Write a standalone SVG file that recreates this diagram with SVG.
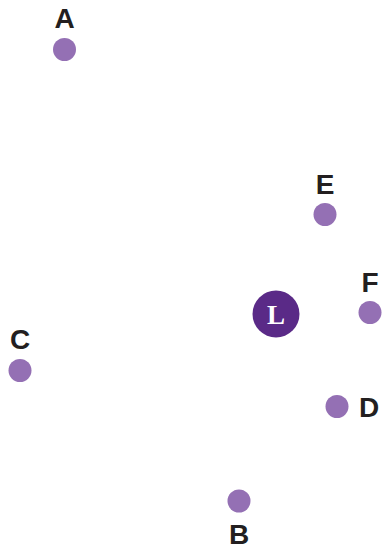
<svg xmlns="http://www.w3.org/2000/svg" width="382" height="550" viewBox="0 0 382 550">
<style>
.dot{fill:#9470b4}
.lbl{font-family:"Liberation Sans",Arial,sans-serif;font-weight:700;font-size:28px;fill:#231f20;text-anchor:middle}
.hub{fill:#5a2a87}
.hubt{font-family:"Liberation Serif",serif;font-weight:700;font-size:27px;fill:#ffffff;text-anchor:middle}
</style>
<rect width="382" height="550" fill="#ffffff"/>
<g id="connectors"></g>
<g id="A"><circle class="dot" cx="64.5" cy="49.5" r="11.5"/><text class="lbl" x="64.5" y="28">A</text></g>
<g id="E"><circle class="dot" cx="325" cy="214.5" r="11.5"/><text class="lbl" x="325" y="194">E</text></g>
<g id="F"><circle class="dot" cx="370" cy="312.5" r="11.5"/><text class="lbl" x="370" y="292">F</text></g>
<g id="C"><circle class="dot" cx="20" cy="370.5" r="11.5"/><text class="lbl" x="20" y="349">C</text></g>
<g id="D"><circle class="dot" cx="337" cy="406.5" r="11.5"/><text class="lbl" x="359" y="417" style="text-anchor:start">D</text></g>
<g id="B"><circle class="dot" cx="239" cy="501" r="11.5"/><text class="lbl" x="239" y="544">B</text></g>
<g id="L"><circle class="hub" cx="276" cy="314" r="23.5"/><text class="hubt" x="276" y="323.5">L</text></g>
</svg>
